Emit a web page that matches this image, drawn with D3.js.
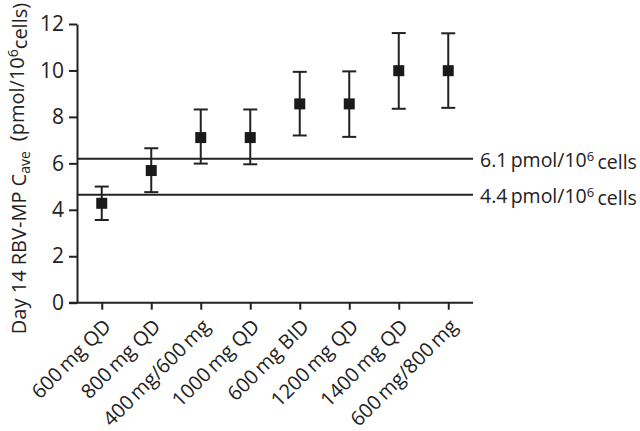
<!DOCTYPE html>
<html><head><meta charset="utf-8">
<script src="https://cdn.jsdelivr.net/npm/d3@7"></script>
<style>
html,body{margin:0;padding:0;background:#fff;}
svg{display:block;font-family:"Open Sans",sans-serif;}
</style></head>
<body><svg id="c" width="640" height="431"></svg>
<script>
const categories = ["600\u2009mg QD","800\u2009mg QD","400\u2009mg/600\u2009mg","1000\u2009mg QD","600\u2009mg BID","1200\u2009mg QD","1400\u2009mg QD","600\u2009mg/800\u2009mg"];
const means = [4.28, 5.69, 7.11, 7.11, 8.56, 8.56, 9.99, 9.99];
const upper = [5.00, 6.65, 8.32, 8.32, 9.94, 9.96, 11.61, 11.60];
const lower = [3.56, 4.76, 5.99, 5.96, 7.20, 7.14, 8.35, 8.39];
const yTicks = [0, 2, 4, 6, 8, 10, 12];
const refValues = [6.2, 4.65];
const refLabels = ["6.1", "4.4"];

(function () {
const svg = d3.select("#c");
const ink = "#222";
const mL = 77, mR = 473, mT = 24, mB = 302.7;

const x = d3.scalePoint().domain(categories).range([mL, mR]).padding(0.5);
const y = d3.scaleLinear().domain([0, 12]).range([mB, mT]);

// y axis
const yAx = svg.append("g").attr("transform", `translate(${mL},0)`)
  .call(d3.axisLeft(y).tickValues(yTicks).tickSize(8).tickPadding(5).tickSizeOuter(0));
yAx.select(".domain").attr("stroke", ink).attr("stroke-width", 2);
yAx.selectAll(".tick line").attr("stroke", ink).attr("stroke-width", 2);
yAx.selectAll(".tick text").attr("fill", ink).style("font-size", "21px").style("font-family", "Open Sans");

// x axis
const xAx = svg.append("g").attr("transform", `translate(0,${mB})`)
  .call(d3.axisBottom(x).tickSize(7).tickSizeOuter(0));
xAx.select(".domain").attr("stroke", ink).attr("stroke-width", 2).attr("d", `M${mL-8},0H${mR}`);
xAx.selectAll(".tick line").attr("stroke", ink).attr("stroke-width", 2);
xAx.selectAll(".tick text")
  .attr("fill", ink).style("font-size", "20px").style("font-family", "Open Sans")
  .attr("text-anchor", "end")
  .attr("dy", "0.35em").attr("y", 0)
  .attr("transform", "translate(5,20) rotate(-45)");

// reference lines
const refs = svg.append("g");
refValues.forEach((v, i) => {
  refs.append("line").attr("x1", mL).attr("x2", mR)
    .attr("y1", y(v)).attr("y2", y(v)).attr("stroke", ink).attr("stroke-width", 2);
  const t = refs.append("text").attr("x", mR + 7).attr("y", y(v)).attr("dy", "0.4em")
    .attr("fill", ink).style("font-size", "19.5px");
  t.append("tspan").text(refLabels[i] + "\u2009pmol/10");
  t.append("tspan").attr("dy", "-0.45em").style("font-size", "13px").text("6");
  t.append("tspan").attr("dy", "0.45em").text("\u2009cells");
});

// error bars and markers
const g = svg.append("g");
const cap = 7, half = 5.5;
categories.forEach((c, i) => {
  const cx = x(c);
  g.append("line").attr("x1", cx).attr("x2", cx).attr("y1", y(upper[i])).attr("y2", y(lower[i]))
    .attr("stroke", ink).attr("stroke-width", 2);
  [upper[i], lower[i]].forEach(v => {
    g.append("line").attr("x1", cx - cap).attr("x2", cx + cap).attr("y1", y(v)).attr("y2", y(v))
      .attr("stroke", ink).attr("stroke-width", 2);
  });
  g.append("rect").attr("x", cx - half).attr("y", y(means[i]) - half)
    .attr("width", half * 2).attr("height", half * 2).attr("fill", "#1a1a1a");
});

// y axis label
const yl = svg.append("text")
  .attr("transform", `translate(26,${(1 + 336) / 2}) rotate(-90)`)
  .attr("text-anchor", "middle").attr("fill", ink).style("font-size", "20px");
yl.append("tspan").text("Day 14 RBV-MP C");
yl.append("tspan").attr("dy", "0.3em").style("font-size", "14px").text("ave");
yl.append("tspan").attr("dy", "-0.3em").text("\u2002(pmol/10");
yl.append("tspan").attr("dy", "-0.45em").style("font-size", "14px").text("6");
yl.append("tspan").attr("dy", "0.45em").text("cells)");
})();
</script></body></html>
